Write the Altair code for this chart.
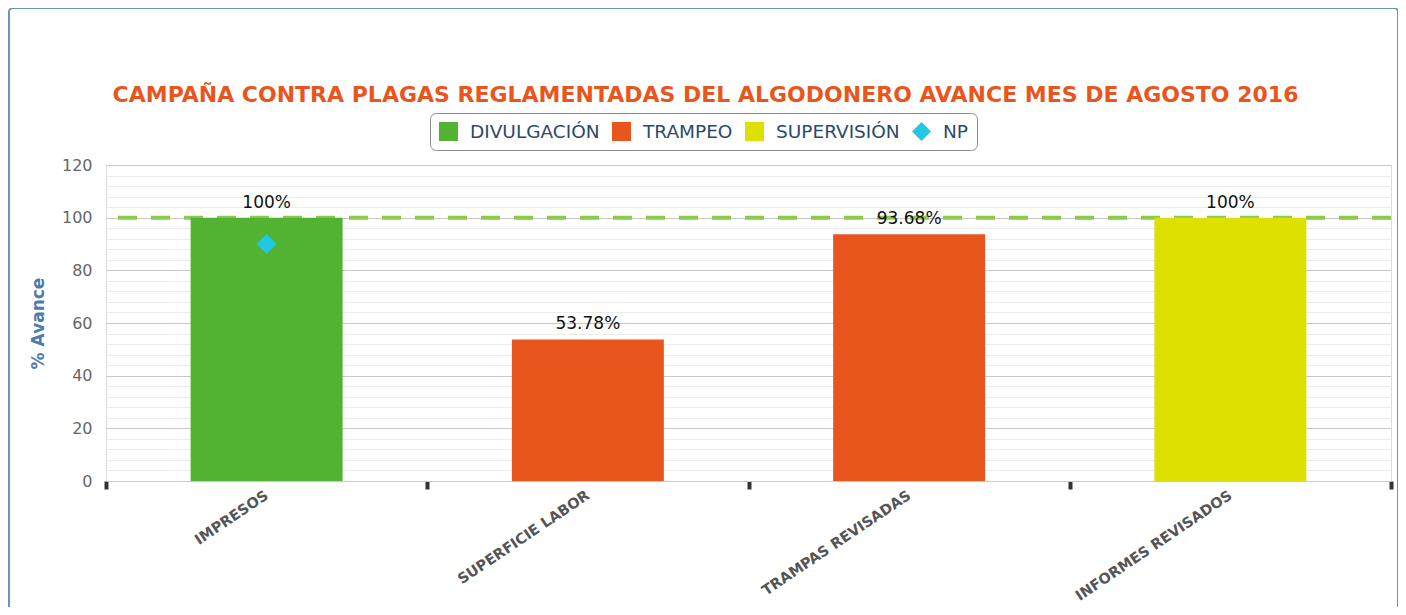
import altair as alt
import pandas as pd

# ---- data ----
categorias = ["IMPRESOS", "SUPERFICIE LABOR", "TRAMPAS REVISADAS", "INFORMES REVISADOS"]
series = ["DIVULGACIÓN", "TRAMPEO", "TRAMPEO", "SUPERVISIÓN"]
avance = [100, 53.78, 93.68, 100]
etiquetas = ["100%", "53.78%", "93.68%", "100%"]
np_categoria = ["IMPRESOS"]
np_serie = ["NP"]
np_valor = [90]
meta = [100]
leyenda = ["DIVULGACIÓN", "TRAMPEO", "SUPERVISIÓN", "NP"]
colores = ["#52B232", "#E9561D", "#DDE000", "#22C8E2"]
ticks_y = [0, 4, 8, 12, 16, 20, 24, 28, 32, 36, 40, 44, 48, 52, 56, 60,
           64, 68, 72, 76, 80, 84, 88, 92, 96, 100, 104, 108, 112, 116, 120]

titulo = "CAMPAÑA CONTRA PLAGAS REGLAMENTADAS DEL ALGODONERO AVANCE MES DE AGOSTO 2016"

df = pd.DataFrame({"categoria": categorias, "serie": series,
                   "avance": avance, "etiqueta": etiquetas})
df_np = pd.DataFrame({"categoria": np_categoria, "serie": np_serie, "avance": np_valor})
df_meta = pd.DataFrame({"meta": meta})
df_frame = pd.DataFrame({"k": [0]})

FONT = "DejaVu Sans"

x_enc = alt.X(
    "categoria:N", sort=categorias,
    scale=alt.Scale(paddingInner=0, paddingOuter=0),
    axis=alt.Axis(title=None, labelAngle=-34, labelAlign="right", labelBaseline="middle",
                  labelFont=FONT, labelFontWeight="bold", labelFontSize=14.5,
                  labelColor="#555555", tickBand="extent", tickColor="#333333",
                  tickWidth=4, tickSize=8, domainColor="#C0CCDA", labelPadding=5,
                  grid=False, labelLimit=0),
)
y_scale = alt.Scale(domain=[0, 120], nice=False)
y_enc = alt.Y(
    "avance:Q", scale=y_scale,
    axis=alt.Axis(title="% Avance", values=ticks_y, tickCount=40, labelOverlap=False,
                  labelExpr="datum.value % 20 === 0 ? datum.label : ''",
                  gridColor={"condition": {"test": "datum.value % 20 === 0", "value": "#C8C8C8"},
                             "value": "#ECECEC"},
                  ticks=False, domain=False, labelFont=FONT, labelFontSize=16,
                  labelColor="#666666", labelPadding=14, titleFont=FONT,
                  titleFontSize=17, titleFontWeight="bold", titleColor="#4D7BAE",
                  titlePadding=14),
)
color_enc = alt.Color(
    "serie:N",
    scale=alt.Scale(domain=leyenda, range=colores),
    legend=alt.Legend(title=None, orient="none", legendX=324, legendY=-52,
                      direction="horizontal", fillColor="white", strokeColor="#8A8A8A",
                      cornerRadius=6, padding=9,
                      symbolType={"expr": "datum.label === 'NP' ? 'diamond' : 'square'"},
                      symbolSize=361, symbolStrokeWidth=0, symbolOpacity=1,
                      labelFontSize=18.5, labelColor="#2B4A6B", labelFont=FONT,
                      labelOffset=12, columnPadding=12, labelLimit=0),
)

frame = alt.Chart(df_frame).mark_rect(
    filled=False, stroke="#6D93C5", strokeWidth=2, cornerRadius=4
).encode(x=alt.value(-97), x2=alt.value(1292), y=alt.value(-157), y2=alt.value(470))

regla = alt.Chart(df_meta).mark_rule(
    color="#8CCB4A", strokeWidth=4, strokeDash=[19, 14]
).encode(y=alt.Y("meta:Q", scale=y_scale))

barras = alt.Chart(df).mark_bar(width={"band": 0.473}).encode(
    x=x_enc, y=y_enc, color=color_enc)

texto = alt.Chart(df).mark_text(
    dy=-10, fontSize=17, font=FONT, color="#111111", baseline="alphabetic"
).encode(x=alt.X("categoria:N", sort=categorias), y=alt.Y("avance:Q", scale=y_scale),
         text="etiqueta:N")

puntos = alt.Chart(df_np).mark_point(
    shape="diamond", filled=True, size=400, opacity=1
).encode(x=alt.X("categoria:N", sort=categorias), y=alt.Y("avance:Q", scale=y_scale),
         color=alt.Color("serie:N"))

chart = alt.layer(regla, barras, texto, puntos, frame).properties(
    width=1285, height=316,
    title=alt.TitleParams(text=titulo, color="#E8561E", font=FONT, fontSize=22,
                          fontWeight="bold", anchor="middle", dx=-43, offset=-100),
    autosize=alt.AutoSizeParams(type="none"),
    padding={"left": 98, "top": 157, "right": 7, "bottom": 126},
).configure_view(stroke="#C8C8C8", strokeWidth=1).configure(background="white")

chart.save("out.html", embed_options={"renderer": "svg", "actions": False})
